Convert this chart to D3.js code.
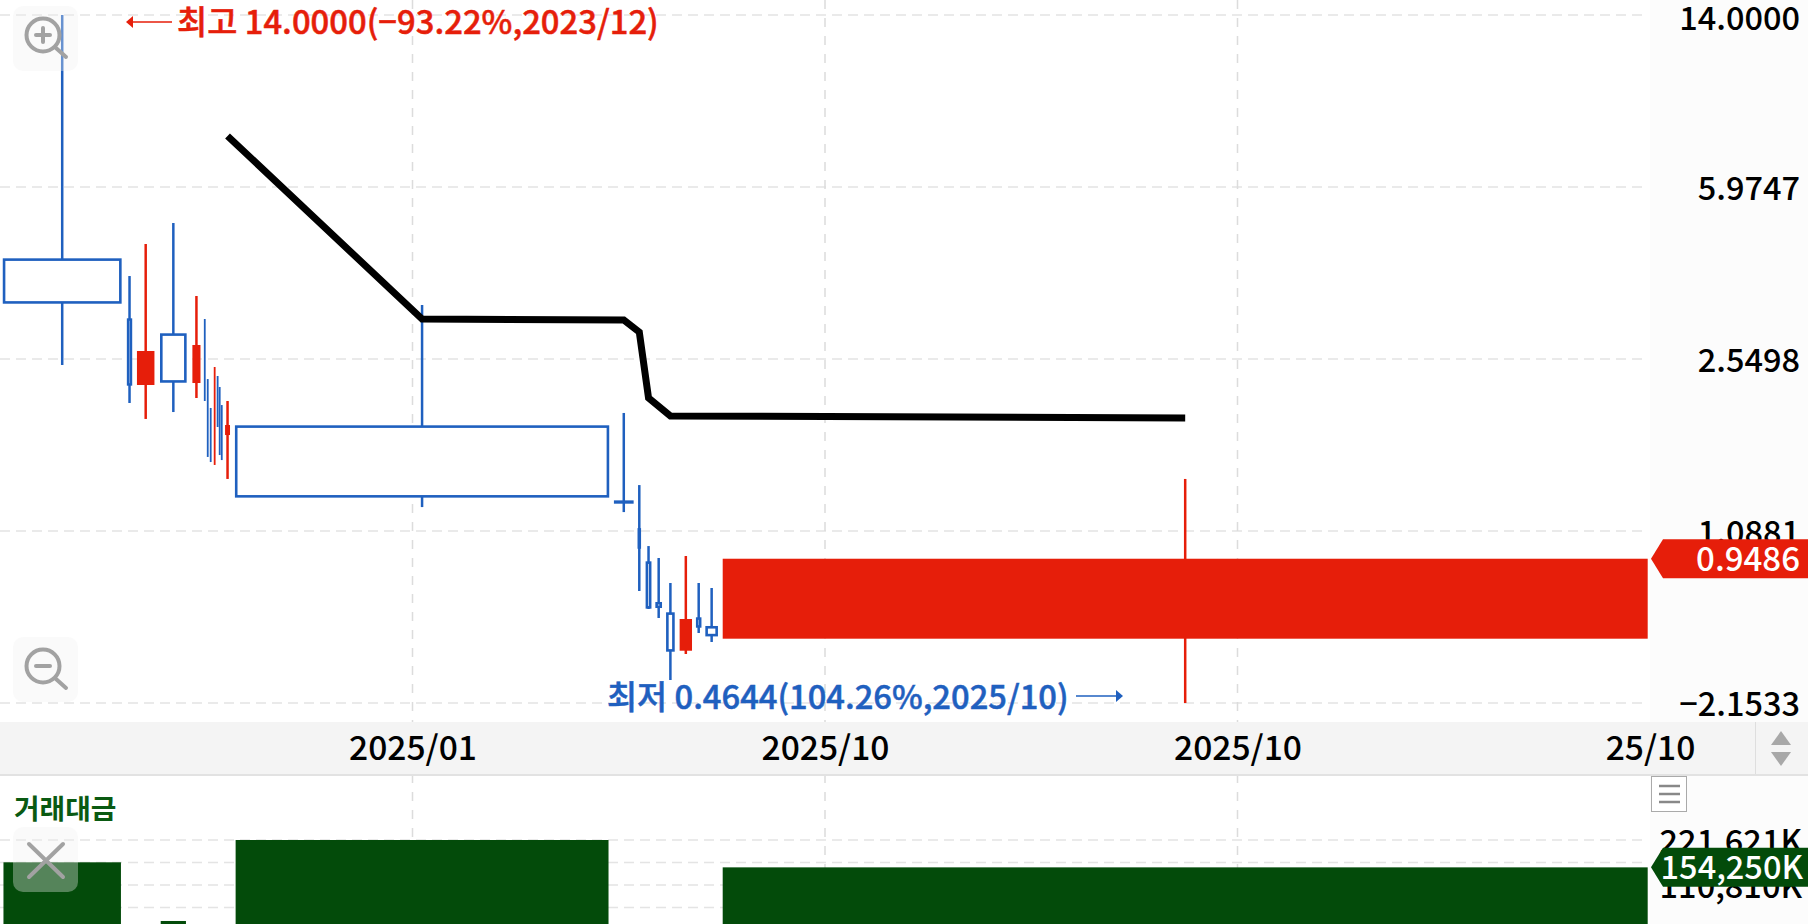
<!DOCTYPE html>
<html>

<head>
  <meta http-equiv="Content-Type" content="text/html;charset=utf-8"/>
  <script src="https://cdn.jsdelivr.net/npm/d3@7"></script>
  <style>
    html, body { margin: 0; padding: 0; background: #fff; overflow: hidden; }
    svg { display: block; }
    text { font-family: "Noto Sans CJK KR", "Noto Sans", sans-serif; }
  </style>
</head>

<body>
  <div id="placeholder"></div>
  <script>
  // equivolume candles: left/right are % of the x axis
  var left  = [0.21, 7.73, 8.30, 9.74, 11.66, 12.38, 12.56, 12.74, 12.98, 13.16, 13.28, 13.41, 13.64, 14.28, 37.25, 38.68, 39.17, 39.76, 40.41, 41.19, 42.22, 42.79, 43.80];
  var right = [7.33, 7.97, 9.36, 11.27, 12.15, 12.44, 12.62, 12.80, 13.04, 13.22, 13.35, 13.47, 13.94, 36.88, 38.36, 38.81, 39.44, 40.08, 40.85, 41.94, 42.47, 43.47, 99.86];
  var open  = [4.183, 3.108, 2.242, 2.886, 2.264, 2.70, 1.95, 1.80, 1.90, 2.00, 1.95, 1.80, 1.750, 1.830, 1.262, 1.10, 0.9333, 0.7631, 0.7251, 0.6016, 0.7074, 0.6776, 0.6385];
  var close = [3.364, 2.242, 2.653, 2.275, 2.733, 2.50, 1.85, 1.70, 2.00, 1.90, 1.85, 1.70, 1.839, 1.288, 1.250, 1.00, 0.7433, 0.7458, 0.6007, 0.7039, 0.6765, 0.6480, 0.9486];
  var high  = [14.0, 3.845, 4.506, 4.999, 3.483, 3.108, 2.309, 2.001, 2.451, 2.344, 2.220, 2.030, 2.071, 3.331, 1.952, 1.366, 1.010, 0.9520, 0.8412, 0.9614, 0.8412, 0.8207, 1.408];
  var low   = [2.475, 2.051, 1.895, 1.961, 2.102, 2.071, 1.570, 1.531, 1.509, 1.821, 1.585, 1.546, 1.408, 1.225, 1.195, 0.8085, 0.7396, 0.7074, 0.5204, 0.5919, 0.6568, 0.6282, 0.4644];
  var turnover = [166700, 3000, 4000, 22200, 3000, 1000, 1000, 1000, 1000, 1000, 1000, 1000, 2000, 221621, 5000, 1000, 2000, 2000, 3000, 4000, 1000, 2000, 154250];

  // moving average, drawn through the centres of these candles
  var maCandle = [12, 13, 14, 15, 16, 18, 22];
  var maValue  = [7.691, 3.108, 3.093, 2.914, 2.102, 1.923, 1.904];

  var yTickValues = [14, 5.9747, 2.5498, 1.0881, 0.4644];
  var yTickLabels = ["14.0000", "5.9747", "2.5498", "1.0881", "\u22122.1533"];
  var xTickValues = [25, 50, 75, 100];
  var xTickLabels = ["2025/01", "2025/10", "2025/10", "25/10"];
  var volGridValues = [221621, 166216, 110810, 55405];
  var volTickValues = [221621, 110810];
  var volTickLabels = ["221,621K", "110,810K"];

  var lastPrice = 0.9486, lastPriceLabel = "0.9486";
  var lastVol = 154250, lastVolLabel = "154,250K";
  var highLabel = "최고 14.0000(\u221293.22%,2023/12)";
  var lowLabel = "최저 0.4644(104.26%,2025/10)";
  var volTitle = "거래대금";

  var RED = "#e61e0a", BLUE = "#1f60bf", GREEN = "#034b0a", GRID = "#e4e4e4", ICON = "#a2a2a2";
  var W = 1810, H = 924, plotRight = 1650, panelRight = 1808;

  var svg = d3.select("#placeholder").append("svg").attr("width", W).attr("height", H);

  var x = d3.scaleLinear().domain([0, 100]).range([0, plotRight]);
  var y = d3.scaleLog().domain([14, 0.4644]).range([15, 703]);
  var yVol = d3.scaleLinear().domain([0, 221621]).range([930, 840]);
  var idx = d3.range(left.length);
  var mid = function(i) { return (x(left[i]) + x(right[i])) / 2; };

  // right hand panel and x band
  svg.append("rect").attr("x", plotRight).attr("y", 0).attr("width", panelRight - plotRight).attr("height", H).attr("fill", "#fcfcfc");

  // grid
  var grid = svg.append("g").attr("fill", "none");
  grid.selectAll(".h").data(yTickValues).enter().append("line")
    .attr("x1", 0).attr("x2", 1647).attr("y1", function(d) { return y(d); }).attr("y2", function(d) { return y(d); })
    .attr("stroke", GRID).attr("stroke-width", 1.5).attr("stroke-dasharray", "10,6");
  grid.selectAll(".hv").data(volGridValues).enter().append("line")
    .attr("x1", 0).attr("x2", 1647).attr("y1", function(d) { return yVol(d); }).attr("y2", function(d) { return yVol(d); })
    .attr("stroke", GRID).attr("stroke-width", 1.5).attr("stroke-dasharray", "10,6");
  grid.selectAll(".v").data(xTickValues.slice(0, 3)).enter().append("line")
    .attr("x1", function(d) { return x(d); }).attr("x2", function(d) { return x(d); })
    .attr("y1", 0).attr("y2", H)
    .attr("stroke", "#dcdcdc").attr("stroke-width", 1.5).attr("stroke-dasharray", "9,9");

  // turnover bars
  svg.append("g").selectAll("rect").data(idx).enter().append("rect")
    .attr("x", function(i) { return x(left[i]); })
    .attr("width", function(i) { return x(right[i]) - x(left[i]); })
    .attr("y", function(i) { return yVol(turnover[i]); })
    .attr("height", function(i) { return yVol(0) - yVol(turnover[i]); })
    .attr("fill", GREEN);

  // candles
  var isUp = function(i) { return close[i] >= open[i]; };
  var candles = svg.append("g");
  candles.selectAll("line").data(idx).enter().append("line")
    .attr("x1", mid).attr("x2", mid)
    .attr("y1", function(i) { return y(high[i]); })
    .attr("y2", function(i) { return y(low[i]); })
    .attr("stroke", function(i) { return isUp(i) ? RED : BLUE; })
    .attr("stroke-width", function(i) { return x(right[i]) - x(left[i]) < 1.5 ? 1.8 : 2.5; });
  var inset = 0.6;
  candles.selectAll("rect").data(idx.filter(function(i) { return x(right[i]) - x(left[i]) > 1.5; })).enter().append("rect")
    .attr("x", function(i) { return x(left[i]) + (isUp(i) ? 0 : inset); })
    .attr("width", function(i) { return Math.max(0.1, x(right[i]) - x(left[i]) - (isUp(i) ? 0 : 2 * inset)); })
    .attr("y", function(i) { return y(Math.max(open[i], close[i])) + (isUp(i) ? 0 : inset); })
    .attr("height", function(i) { return Math.max(0.1, Math.abs(y(open[i]) - y(close[i])) - (isUp(i) ? 0 : 2 * inset)); })
    .attr("fill", function(i) { return isUp(i) ? RED : "#fff"; })
    .attr("stroke", function(i) { return isUp(i) ? "none" : BLUE; })
    .attr("stroke-width", 2.6);

  // moving average
  var maLine = d3.line()
    .x(function(d, k) { return mid(maCandle[k]); })
    .y(function(d) { return y(d); });
  svg.append("path").datum(maValue).attr("d", maLine)
    .attr("fill", "none").attr("stroke", "#000").attr("stroke-width", 7).attr("stroke-linejoin", "miter");

  // x band
  var band = svg.append("g");
  band.append("rect").attr("x", 0).attr("y", 722).attr("width", panelRight).attr("height", 52).attr("fill", "#f4f4f4");
  band.append("rect").attr("x", 0).attr("y", 774).attr("width", panelRight).attr("height", 2).attr("fill", "#e2e2e2");
  band.append("rect").attr("x", 1755).attr("y", 722).attr("width", 1).attr("height", 52).attr("fill", "#dedede");
  band.append("path").attr("d", d3.line()([[1771, 745], [1781, 731], [1791, 745]])).attr("fill", "#a8a8a8");
  band.append("path").attr("d", d3.line()([[1771, 752], [1781, 766], [1791, 752]])).attr("fill", "#a8a8a8");

  var xAxis = svg.append("g").attr("transform", "translate(0,722)")
    .call(d3.axisBottom(x).tickValues(xTickValues).tickSize(0).tickFormat(function(d, i) { return xTickLabels[i]; }));
  xAxis.select(".domain").remove();
  xAxis.selectAll("text").attr("y", 26).attr("dy", "0.36em")
    .style("font-family", '"Noto Sans CJK KR"').style("font-size", "33.6px").style("font-weight", 500).attr("fill", "#000");

  // y axes
  var yAxis = svg.append("g").attr("transform", "translate(1800,0)")
    .call(d3.axisRight(y).tickValues(yTickValues).tickSize(0).tickFormat(function(d, i) { return yTickLabels[i]; }));
  yAxis.select(".domain").remove();
  yAxis.selectAll("text").attr("x", 0).attr("text-anchor", "end")
    .attr("dy", function(d, i) { return i == 0 ? "0.46em" : "0.38em"; })
    .style("font-family", '"Noto Sans CJK KR"').style("font-size", "32.5px").style("font-weight", 500).attr("fill", "#000");

  var volAxis = svg.append("g").attr("transform", "translate(1802,0)")
    .call(d3.axisRight(yVol).tickValues(volTickValues).tickSize(0).tickFormat(function(d, i) { return volTickLabels[i]; }));
  volAxis.select(".domain").remove();
  volAxis.selectAll("text").attr("x", 0).attr("text-anchor", "end").attr("dy", "0.38em")
    .style("font-family", '"Noto Sans CJK KR"').style("font-size", "32.5px").style("font-weight", 500).attr("fill", "#000");

  // last value tags
  function tag(cy, color, label, textRight, fs) {
    var g = svg.append("g");
    g.append("path").attr("d", d3.line()([[1651, cy], [1663, cy - 19.5], [panelRight, cy - 19.5], [panelRight, cy + 19.5], [1663, cy + 19.5]]) + "Z").attr("fill", color);
    g.append("text").attr("x", textRight).attr("y", cy).attr("dy", "0.36em").attr("text-anchor", "end")
      .attr("fill", "#fff").style("font-size", fs + "px").style("font-weight", 500).text(label);
  }
  tag(y(lastPrice), RED, lastPriceLabel, 1800, 33);
  tag(yVol(lastVol), GREEN, lastVolLabel, 1803, 32.5);

  // high / low notes
  function arrow(x1, x2, yy, color) {
    var dir = x2 > x1 ? 1 : -1;
    svg.append("line").attr("x1", x1).attr("x2", x2 - dir * 4).attr("y1", yy).attr("y2", yy).attr("stroke", color).attr("stroke-width", 1.5);
    svg.append("path").attr("d", d3.line()([[x2, yy], [x2 - dir * 7, yy - 6], [x2 - dir * 7, yy + 6]])).attr("fill", color);
  }
  arrow(172, 126, y(14) + 7, RED);
  svg.append("text").attr("x", 177).attr("y", y(14) + 7).attr("dy", "0.36em").attr("fill", RED).attr("stroke", RED).attr("stroke-width", 0.5)
    .style("font-size", "32.8px").style("font-weight", 500).text(highLabel);
  arrow(1076, 1123, 696, BLUE);
  svg.append("text").attr("x", 607).attr("y", 697).attr("dy", "0.36em").attr("fill", BLUE).attr("stroke", BLUE).attr("stroke-width", 0.5)
    .style("font-size", "32.7px").style("font-weight", 500).text(lowLabel);

  svg.append("text").attr("x", 14).attr("y", 809).attr("dy", "0.36em").attr("fill", "#0a5a12")
    .style("font-size", "27.8px").style("font-weight", 700).text(volTitle);

  // menu button
  svg.append("rect").attr("x", 1651.5).attr("y", 776.5).attr("width", 35).attr("height", 35).attr("fill", "#fff").attr("stroke", "#aaa").attr("stroke-width", 1);
  [786, 794, 802].forEach(function(my) {
    svg.append("line").attr("x1", 1659).attr("x2", 1680).attr("y1", my).attr("y2", my).attr("stroke", "#888").attr("stroke-width", 2.5);
  });

  // zoom and close buttons
  function button(by) {
    svg.append("rect").attr("x", 13).attr("y", by).attr("width", 65).attr("height", 65).attr("rx", 10).attr("fill", "rgb(240,240,240)").attr("fill-opacity", 0.35);
  }
  function glass(cy) {
    svg.append("circle").attr("cx", 43).attr("cy", cy).attr("r", 16.5).attr("fill", "none").attr("stroke", ICON).attr("stroke-width", 4);
    svg.append("line").attr("x1", 56).attr("y1", cy + 13).attr("x2", 66).attr("y2", cy + 22).attr("stroke", ICON).attr("stroke-width", 4).attr("stroke-linecap", "round");
    svg.append("line").attr("x1", 36).attr("x2", 50).attr("y1", cy).attr("y2", cy).attr("stroke", ICON).attr("stroke-width", 4).attr("stroke-linecap", "round");
  }
  button(6);
  glass(35);
  svg.append("line").attr("x1", 43).attr("x2", 43).attr("y1", 28).attr("y2", 42).attr("stroke", ICON).attr("stroke-width", 4).attr("stroke-linecap", "round");
  button(637);
  glass(666);
  button(827);
  svg.append("path").attr("d", "M29,844L63,877M63,844L29,877").attr("stroke", ICON).attr("stroke-width", 4).attr("stroke-linecap", "round").attr("fill", "none");
  </script>
</body>

</html>
